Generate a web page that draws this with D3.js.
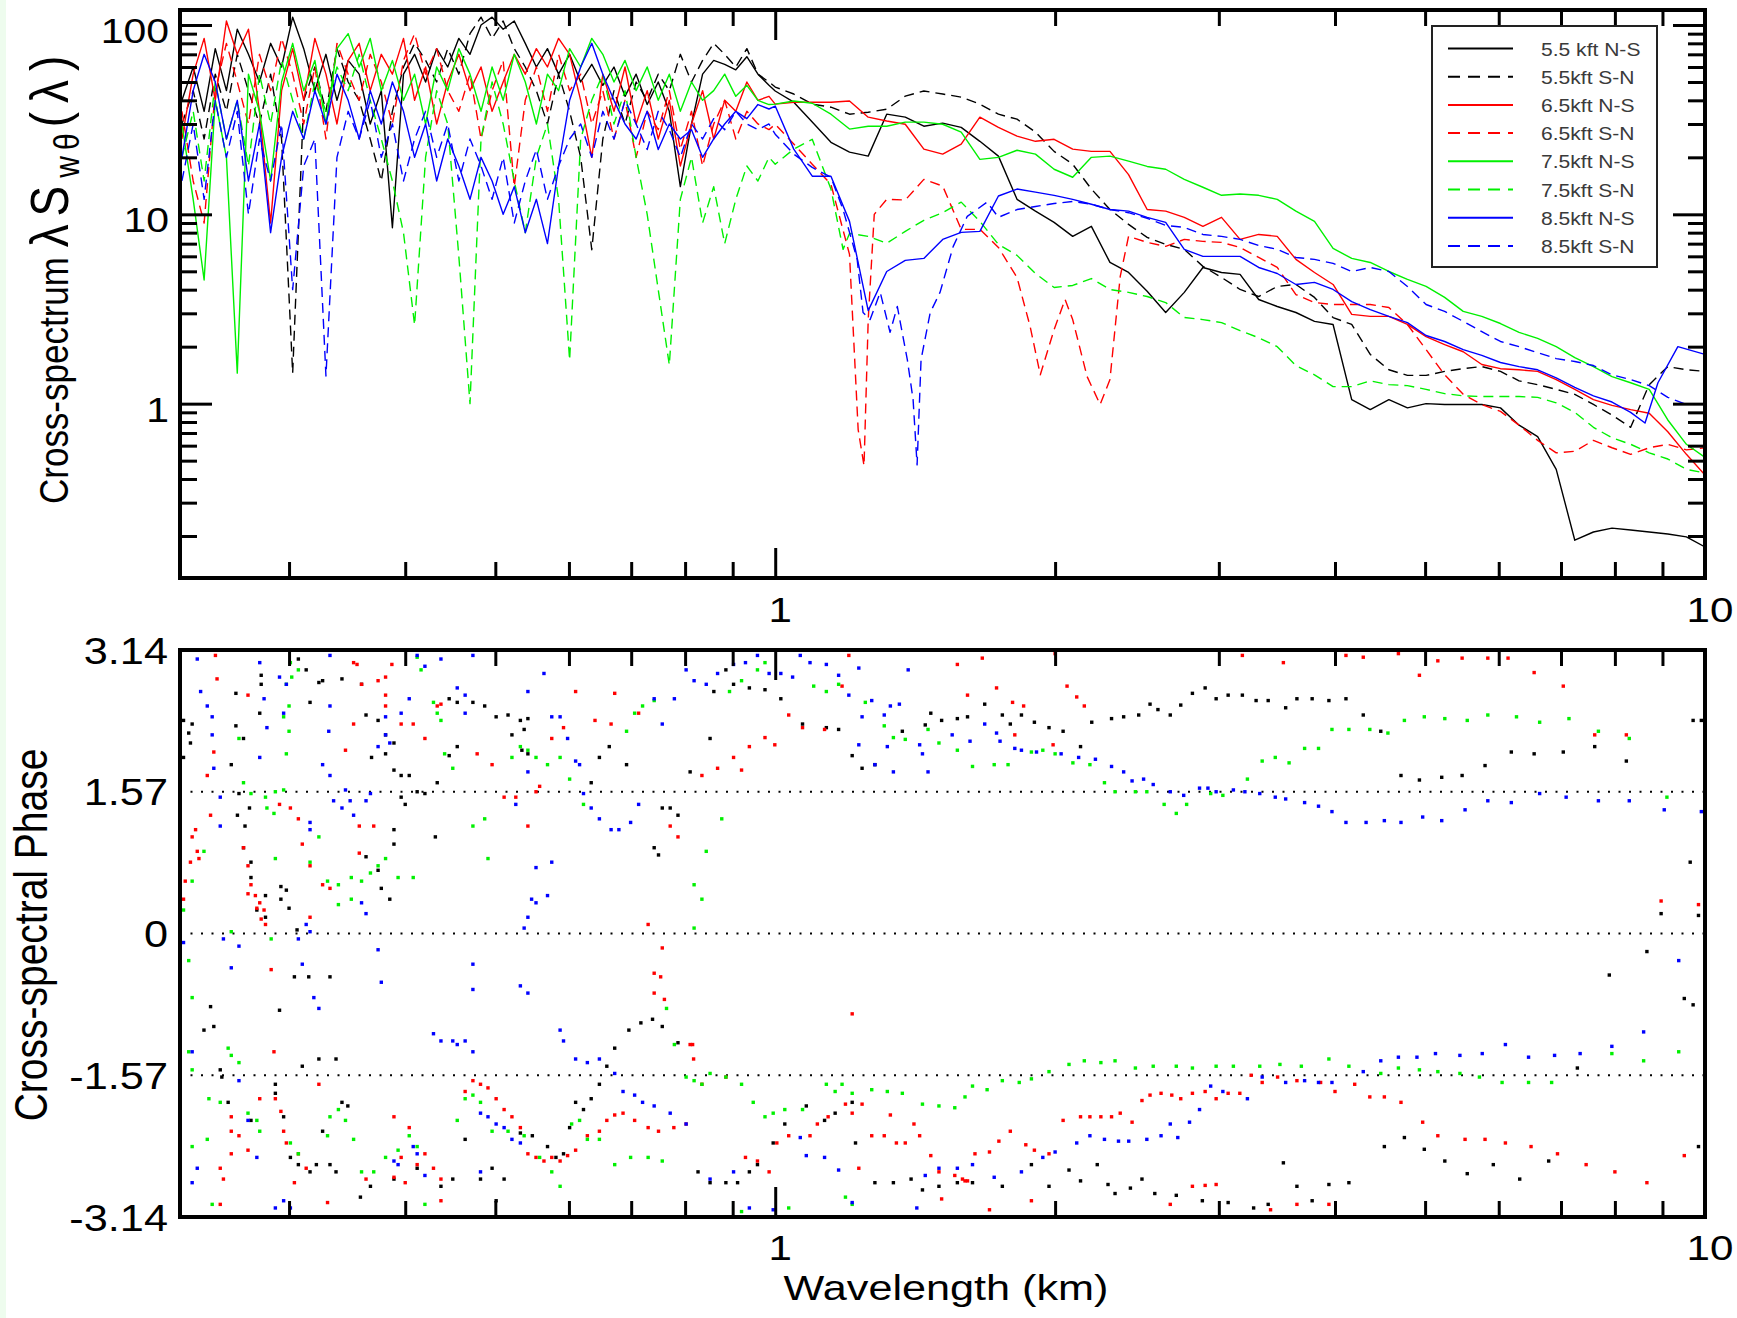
<!DOCTYPE html>
<html>
<head>
<meta charset="utf-8">
<title>Cross-spectrum and cross-spectral phase</title>
<script src="https://cdn.jsdelivr.net/npm/d3@7"></script>
<style>
  html, body { margin: 0; padding: 0; background: #ffffff; }
  svg { display: block; }
</style>
</head>
<body>
<svg id="chart" width="1737" height="1318"></svg>
<script>
// ---------------------------------------------------------------------------
// Data
// ---------------------------------------------------------------------------

// Tick values
const xMajorTicks = [1, 10];
const xMinorTicks = [0.3, 0.4, 0.5, 0.6, 0.7, 0.8, 0.9, 2, 3, 4, 5, 6, 7, 8, 9];
const xTickLabels = ["1", "10"];
const specMajorTicks = [1, 10, 100];
const specMinorTicks = [0.2, 0.3, 0.4, 0.5, 0.6, 0.7, 0.8, 0.9, 2, 3, 4, 5, 6, 7, 8, 9, 20, 30, 40, 50, 60, 70, 80, 90];
const specTickLabels = ["1", "10", "100"];
const phaseTicks = [-3.14, -1.57, 0, 1.57, 3.14];
const phaseTickLabels = ["-3.14", "-1.57", "0", "1.57", "3.14"];
const phaseGuides = [-1.57, 0, 1.57];

// Short-wavelength grid (km) shared by the spectra below 1 km
const waveShort = [0.2301, 0.2366, 0.2431, 0.2499, 0.2569, 0.2639, 0.2713, 0.2788, 0.2866, 0.2945,
  0.3027, 0.3111, 0.3198, 0.3287, 0.3378, 0.3473, 0.3569, 0.3668, 0.3770, 0.3875,
  0.3983, 0.4094, 0.4207, 0.4324, 0.4444, 0.4568, 0.4696, 0.4826, 0.4960, 0.5098,
  0.5240, 0.5385, 0.5535, 0.5689, 0.5848, 0.6010, 0.6177, 0.6349, 0.6525, 0.6708,
  0.6894, 0.7086, 0.7283, 0.7485, 0.7693, 0.7906, 0.8128, 0.8354, 0.8587, 0.8824,
  0.9070, 0.9322, 0.9581, 0.9847];

// Long-wavelength grid (km), 1 to 10 km
const waveLong = [1.000, 1.047, 1.096, 1.148, 1.202, 1.259, 1.318, 1.380, 1.445, 1.514,
  1.585, 1.660, 1.738, 1.820, 1.905, 1.995, 2.089, 2.188, 2.291, 2.399,
  2.512, 2.630, 2.754, 2.884, 3.020, 3.162, 3.311, 3.467, 3.631, 3.802,
  3.981, 4.169, 4.365, 4.571, 4.786, 5.012, 5.248, 5.495, 5.754, 6.026,
  6.310, 6.607, 6.918, 7.244, 7.586, 7.943, 8.318, 8.710, 9.120, 9.550, 10.0];

// 5.5 kft N-S
const s55nsShort = [40, 60, 35, 75, 45, 95, 70, 50, 80, 60, 110, 75, 45, 70, 40, 65, 55, 30, 45, 8.5,
  55, 70, 50, 75, 60, 85, 70, 100, 110, 95, 105, 80, 60, 75, 55, 70, 50, 62, 48, 60,
  42, 55, 38, 50, 35, 14, 30, 55, 65, 62, 58, 68, 55, 48];
const s55nsLong = [44.8, 39.1, 30.7, 24.0, 21.3, 20.3, 33.8, 32.6, 29.2, 30.3,
  28.8, 24.3, 20.3, 12.0, 10.4, 9.07, 7.65, 8.64, 5.57, 4.93,
  3.92, 3.03, 3.87, 5.24, 4.93, 4.82, 3.55, 3.26, 3.03, 2.72,
  2.62, 1.05, 0.93, 1.05, 0.95, 1.00, 0.99, 0.99, 0.99, 0.95,
  0.77, 0.67, 0.45, 0.19, 0.21, 0.22, 0.215, 0.21, 0.205, 0.198, 0.175];

// 5.5 kft S-N
const s55snShort = [30, 45, 25, 55, 35, 70, 45, 30, 55, 25, 1.45, 40, 60, 35, 75, 50, 40, 25, 15, 35,
  60, 80, 65, 50, 75, 55, 90, 110, 85, 105, 75, 60, 45, 30, 55, 35, 20, 6.5, 25, 45,
  30, 50, 40, 55, 45, 70, 50, 65, 80, 70, 60, 75, 55, 50];
const s55snLong = [47.0, 43.2, 38.2, 36.8, 33.8, 34.6, 35.9, 42.1, 44.8, 43.2,
  41.6, 38.2, 33.8, 31.8, 27.2, 21.5, 18.4, 13.6, 10.6, 8.85,
  7.55, 6.94, 6.53, 5.31, 4.64, 4.01, 3.68, 4.16, 4.26, 3.64,
  2.85, 2.62, 1.82, 1.51, 1.41, 1.41, 1.48, 1.53, 1.57, 1.48,
  1.32, 1.26, 1.19, 1.12, 0.99, 0.87, 0.75, 1.26, 1.57, 1.51, 1.48];

// 6.5 kft N-S
const s65nsShort = [25, 55, 85, 40, 105, 70, 95, 35, 9, 45, 75, 40, 85, 55, 30, 65, 80, 45, 70, 55,
  85, 40, 60, 30, 50, 70, 45, 60, 35, 50, 70, 55, 75, 60, 85, 70, 40, 20, 55, 35,
  60, 30, 45, 25, 40, 18, 30, 45, 25, 40, 35, 50, 40, 42];
const s65nsLong = [38.2, 39.1, 39.1, 39.1, 39.7, 32.6, 31.1, 29.9, 22.1, 20.8,
  23.5, 32.6, 28.8, 25.9, 24.3, 24.9, 22.1, 21.5, 21.5, 16.2,
  10.6, 10.4, 9.64, 8.64, 9.64, 7.37, 7.83, 7.65, 5.78, 4.93,
  4.26, 2.96, 2.89, 2.89, 2.62, 2.26, 2.05, 1.88, 1.61, 1.53,
  1.51, 1.48, 1.34, 1.19, 1.05, 0.98, 0.93, 0.89, 0.71, 0.54, 0.42];

// 6.5 kft S-N (own wavelength points through the deep minima)
const s65snShort = [35, 15, 9, 45, 80, 50, 30, 70, 45, 85, 55, 30, 60, 25, 80, 55, 40, 70, 50, 30,
  65, 90, 55, 75, 45, 35, 55, 25, 45, 65, 14, 40, 60, 35, 70, 45, 55, 30, 45, 25,
  40, 20, 35, 28, 45, 22, 35, 18, 30, 40, 25, 35, 30, 28];
const s65snLong = [[1.000, 29.9], [1.047, 23.5], [1.096, 18.4], [1.148, 14.4], [1.202, 6.14],
  [1.228, 0.73], [1.246, 0.47], [1.259, 2.78], [1.278, 10.0], [1.318, 12.0], [1.380, 11.9],
  [1.445, 15.3], [1.514, 14.1], [1.585, 8.33], [1.660, 8.33], [1.738, 6.69], [1.820, 4.64],
  [1.880, 2.56], [1.928, 1.42], [1.995, 2.46], [2.050, 3.55], [2.089, 2.78], [2.165, 1.39],
  [2.236, 0.99], [2.291, 1.34], [2.350, 4.70], [2.399, 7.65], [2.512, 7.11], [2.630, 6.77],
  [2.754, 7.37], [2.884, 7.20], [3.020, 7.11], [3.162, 6.69], [3.311, 5.92], [3.467, 5.24],
  [3.631, 3.77], [3.802, 3.42], [3.981, 3.34], [4.169, 3.34], [4.365, 3.34], [4.571, 3.22],
  [4.786, 2.62], [5.012, 1.93], [5.248, 1.42], [5.495, 1.12], [5.754, 0.99], [6.026, 0.91],
  [6.310, 0.77], [6.607, 0.64], [6.918, 0.55], [7.244, 0.56], [7.586, 0.64], [7.943, 0.585],
  [8.318, 0.54], [8.710, 0.585], [9.120, 0.61], [9.550, 0.57], [10.0, 0.585]];

// 7.5 kft N-S
const s75nsShort = [30, 12, 4.5, 40, 20, 1.45, 55, 35, 15, 50, 80, 45, 65, 30, 75, 90, 60, 85, 45, 65,
  40, 55, 30, 60, 45, 75, 55, 35, 60, 40, 70, 50, 30, 55, 45, 75, 60, 85, 70, 50,
  65, 45, 60, 40, 55, 35, 50, 40, 45, 55, 42, 48, 40, 38];
const s75nsLong = [38.2, 39.7, 38.6, 33.8, 28.2, 29.2, 29.2, 30.7, 30.7, 29.9,
  27.2, 19.5, 20.0, 21.8, 20.8, 17.3, 15.7, 20.0, 20.3, 19.1,
  17.9, 17.3, 15.3, 13.9, 12.6, 12.8, 12.6, 12.0, 10.4, 9.18,
  6.61, 5.85, 5.57, 4.99, 4.53, 4.16, 3.64, 3.07, 2.89, 2.65,
  2.38, 2.21, 2.00, 1.75, 1.57, 1.39, 1.29, 1.19, 0.82, 0.61, 0.52];

// 7.5 kft S-N
const s75snShort = [20, 35, 15, 50, 25, 40, 18, 55, 30, 65, 40, 25, 50, 35, 60, 45, 70, 40, 25, 15,
  8, 2.6, 20, 45, 30, 6, 1.0, 25, 50, 30, 15, 8, 20, 30, 12, 1.7, 25, 40, 55, 30,
  45, 20, 10, 4, 1.6, 12, 20, 9, 14, 7, 12, 18, 15, 20];
const s75snLong = [[1.000, 18.4], [1.047, 22.1], [1.096, 24.9], [1.148, 13.6], [1.183, 6.53],
  [1.202, 7.93], [1.259, 7.65], [1.318, 7.03], [1.380, 8.13], [1.445, 9.30], [1.514, 10.2],
  [1.585, 11.6], [1.660, 9.18], [1.738, 6.94], [1.820, 6.07], [1.905, 4.87], [1.995, 4.11],
  [2.089, 4.21], [2.188, 4.58], [2.291, 4.01], [2.399, 3.87], [2.512, 3.68], [2.630, 3.42],
  [2.754, 2.85], [2.884, 2.78], [3.020, 2.68], [3.162, 2.43], [3.311, 2.23], [3.467, 2.00],
  [3.631, 1.59], [3.802, 1.42], [3.981, 1.23], [4.169, 1.23], [4.365, 1.32], [4.571, 1.26],
  [4.786, 1.245], [5.012, 1.19], [5.248, 1.13], [5.495, 1.10], [5.754, 1.09], [6.026, 1.09],
  [6.310, 1.09], [6.607, 1.08], [6.918, 1.01], [7.244, 0.90], [7.586, 0.75], [7.943, 0.66],
  [8.318, 0.61], [8.710, 0.55], [9.120, 0.51], [9.550, 0.45], [10.0, 0.43]];

// 8.5 kft N-S
const s85nsShort = [20, 45, 70, 50, 25, 40, 15, 30, 8, 20, 35, 25, 45, 30, 55, 40, 25, 45, 30, 50,
  35, 20, 30, 15, 25, 18, 12, 20, 15, 10, 14, 8, 12, 7, 18, 40, 60, 80, 55, 40,
  30, 25, 35, 22, 30, 25, 28, 20, 25, 30, 35, 32, 38, 36];
const s85nsLong = [[1.000, 37.3], [1.047, 22.1], [1.096, 15.9], [1.148, 15.9], [1.202, 9.18],
  [1.259, 3.1], [1.318, 4.99], [1.380, 5.71], [1.445, 5.85], [1.514, 7.37], [1.585, 8.03],
  [1.660, 8.13], [1.738, 12.5], [1.820, 13.6], [1.905, 13.1], [1.995, 12.6], [2.089, 12.0],
  [2.188, 11.3], [2.291, 10.6], [2.399, 10.4], [2.512, 9.64], [2.630, 9.07], [2.754, 6.53],
  [2.884, 6.0], [3.020, 6.0], [3.162, 6.0], [3.311, 5.24], [3.467, 4.87], [3.631, 4.26],
  [3.802, 4.37], [3.981, 4.01], [4.169, 3.46], [4.365, 3.14], [4.571, 2.89], [4.786, 2.68],
  [5.012, 2.29], [5.248, 2.13], [5.495, 1.93], [5.754, 1.80], [6.026, 1.65], [6.310, 1.57],
  [6.607, 1.51], [6.918, 1.37], [7.244, 1.22], [7.586, 1.10], [7.943, 1.02], [8.318, 0.90],
  [8.62, 0.79], [8.90, 1.29], [9.35, 2.00], [10.0, 1.82]];

// 8.5 kft S-N
const s85snShort = [15, 30, 12, 40, 20, 35, 10, 25, 15, 30, 4, 18, 25, 1.4, 20, 35, 25, 40, 20, 30,
  15, 25, 35, 20, 30, 15, 25, 18, 12, 20, 9, 15, 22, 12, 18, 25, 30, 20, 35, 25,
  40, 30, 22, 35, 28, 20, 30, 25, 32, 28, 35, 30, 28, 30];
const s85snLong = [[1.000, 26.5], [1.047, 20.8], [1.096, 17.7], [1.148, 15.7], [1.183, 10.6],
  [1.225, 5.78], [1.243, 3.03], [1.265, 2.78], [1.297, 3.87], [1.329, 2.38], [1.353, 3.26],
  [1.387, 1.71], [1.407, 1.05], [1.421, 0.475], [1.435, 1.71], [1.468, 3.03], [1.504, 3.87],
  [1.554, 6.77], [1.609, 9.76], [1.690, 11.6], [1.738, 9.64], [1.820, 10.6], [1.905, 11.0],
  [1.995, 11.4], [2.089, 11.7], [2.188, 11.3], [2.291, 10.6], [2.399, 10.2], [2.512, 9.53],
  [2.630, 8.74], [2.754, 8.53], [2.884, 7.83], [3.020, 7.65], [3.162, 7.37], [3.311, 6.85],
  [3.467, 6.53], [3.631, 5.92], [3.802, 5.78], [3.981, 5.51], [4.169, 4.99], [4.365, 5.24],
  [4.571, 4.99], [4.786, 4.16], [5.012, 3.34], [5.248, 3.07], [5.495, 2.72], [5.754, 2.40],
  [6.026, 2.13], [6.310, 2.00], [6.607, 1.86], [6.918, 1.73], [7.244, 1.67], [7.586, 1.59],
  [7.943, 1.42], [8.318, 1.34], [8.710, 1.245], [9.120, 1.08], [9.550, 0.99]];

// Cross-spectral phase (wavelength km, phase rad), N-S and S-N pooled per altitude
const phase55 = [[0.231,2.36],[0.236,2.32],[0.234,2.22],[0.235,2.11],[0.231,1.95],[0.263,2.66],[0.280,2.86],[0.280,2.76],[0.279,2.44],[0.263,2.30],[0.268,2.16],[0.260,1.87],[0.265,1.55],[0.272,1.39],[0.264,1.31],[0.269,1.19],[0.268,0.95],[0.273,0.79],[0.273,0.62],[0.283,0.42],[0.277,0.26],[0.283,0.18],[0.294,0.52],[0.298,0.48],[0.300,0.28],[0.294,0.38],[0.306,0.04],[0.304,-0.48],[0.315,-0.48],[0.332,-0.48],[0.293,-0.85],[0.247,-0.81],[0.249,-1.03],[0.243,-1.07],[0.253,-1.51],[0.254,-1.59],[0.258,-1.87],[0.273,-2.07],[0.290,-1.77],[0.296,-2.03],[0.301,-2.48],[0.307,-2.56],[0.316,-2.64],[0.321,-2.56],[0.326,-2.19],[0.332,-2.56],[0.337,-2.64],[0.342,-1.87],[0.347,-1.91],[0.358,-2.92],[0.367,-2.80],[0.389,-2.72],[0.412,-2.60],[0.437,-2.80],[0.450,-2.72],[0.464,-2.28],[0.482,-2.72],[0.496,-2.60],[0.501,-2.96],[0.511,-2.72],[0.532,-2.21],[0.548,-2.24],[0.569,-2.36],[0.581,-2.48],[0.592,-2.44],[0.601,-2.15],[0.610,-1.87],[0.622,-1.95],[0.634,-1.83],[0.647,-1.67],[0.659,-1.47],[0.672,-1.27],[0.696,-1.07],[0.717,-0.99],[0.738,-0.95],[0.756,-1.03],[0.786,-1.21],[0.323,-1.39],[0.337,-1.39],[0.310,-1.47],[0.290,-1.67],
  [0.307,3.04],[0.313,2.92],[0.323,2.78],[0.316,2.56],[0.326,2.80],[0.342,2.82],[0.359,2.76],[0.363,2.42],[0.374,2.36],[0.381,2.20],[0.389,2.11],[0.381,1.99],[0.368,1.95],[0.389,1.81],[0.396,1.75],[0.404,1.75],[0.412,1.57],[0.396,1.51],[0.400,1.43],[0.420,1.55],[0.433,1.67],[0.389,1.15],[0.389,0.99],[0.431,1.07],[0.363,0.85],[0.374,0.70],[0.377,0.50],[0.385,0.38],
  [0.446,2.60],[0.455,2.56],[0.473,2.56],[0.487,2.52],[0.501,2.40],[0.516,2.42],[0.532,2.36],[0.542,2.38],[0.537,2.26],[0.521,2.20],[0.534,2.03],[0.542,1.99],[0.455,2.07],[0.446,1.97],[0.634,1.67],[0.647,1.95],[0.692,1.87],[0.663,2.07],[0.756,1.39],[0.771,1.39],[0.786,1.31],[0.741,0.95],[0.749,0.87],[0.810,1.79],[0.859,2.68],[0.902,2.76],[0.938,2.72],[0.975,2.70],[1.014,2.60],[0.885,2.92],[0.851,2.16],
  [0.826,-2.64],[0.851,-2.76],[0.885,-2.76],[0.911,-2.76],[0.938,-2.64],[0.957,-2.56],[0.995,-2.32],[1.024,-2.11],
  [1.07,2.32],[1.135,2.28],[1.17,2.26],[1.21,1.97],[1.24,1.83],[1.28,1.87],[1.37,2.24],[1.45,2.31],[1.47,2.44],[1.51,2.36],[1.57,2.38],[1.61,2.40],[1.68,2.54],[1.755,2.42],[1.79,2.32],[1.84,2.42],[1.90,2.34],[1.97,2.28],[2.04,2.24],[2.13,2.07],[2.19,2.34],[2.30,2.38],[2.37,2.40],[2.46,2.42],[2.53,2.54],[2.58,2.48],[2.66,2.42],[2.73,2.53],[2.81,2.66],[2.90,2.72],[2.98,2.60],[3.07,2.64],[3.18,2.64],[3.29,2.58],[3.39,2.58],[3.54,2.50],[3.64,2.60],[3.78,2.60],[3.94,2.58],[4.11,2.60],[4.29,2.42],[4.48,2.24],[4.71,1.75],[4.93,1.70],[5.21,1.73],[5.48,1.75],[5.80,1.86],[6.19,2.01],[6.55,1.99],[7.04,2.01],[7.61,2.07],[8.23,1.91],[9.71,2.36],[9.91,2.36],[9.64,0.79],[8.97,0.22],[9.84,0.20],[8.66,-0.20],[7.89,-0.46],[9.50,-0.72],[9.71,-0.79],
  [1.08,-1.91],[1.13,-2.07],[1.16,-1.99],[1.21,-1.87],[1.22,-2.32],[1.28,-2.76],[1.34,-2.76],[1.40,-2.72],[1.44,-2.84],[1.50,-2.80],[1.57,-2.76],[1.63,-2.76],[1.755,-2.80],[1.886,-2.56],[1.97,-2.80],[2.07,-2.62],[2.13,-2.74],[2.22,-2.56],[2.28,-2.78],[2.32,-2.88],[2.41,-2.82],[2.48,-2.72],[2.56,-2.88],[2.70,-2.90],[2.88,-2.96],[3.07,-2.98],[3.27,-3.04],[3.39,-3.00],[3.52,-2.54],[3.64,-2.80],[3.78,-2.96],[3.94,-2.78],[4.14,-2.76],[4.52,-2.36],[4.75,-2.26],[4.99,-2.39],[5.25,-2.52],[5.55,-2.66],[5.92,-2.56],[6.32,-2.72],[6.79,-2.52],[7.29,-1.49],[9.84,-2.36]];

const phase65 = [[0.250,3.08],[0.251,2.82],[0.271,2.64],[0.249,2.01],[0.245,1.75],[0.247,1.31],[0.238,1.15],[0.236,1.07],[0.239,0.91],[0.235,0.79],[0.240,0.83],[0.232,0.58],[0.231,0.38],[0.268,0.95],[0.271,0.75],[0.273,0.54],[0.276,0.42],[0.279,0.34],[0.282,0.26],[0.283,0.10],[0.280,0.16],[0.277,0.28],[0.271,0.44],[0.287,-0.40],[0.301,1.39],[0.307,1.27],[0.310,0.99],[0.316,0.75],[0.293,1.43],[0.316,0.18],[0.326,0.54],[0.332,0.50],[0.345,2.03],[0.352,2.32],[0.359,2.76],[0.352,3.00],[0.355,2.98],[0.370,1.19],[0.357,1.19],[0.357,0.89],[0.374,2.80],[0.381,2.84],[0.387,2.98],[0.381,2.64],[0.381,2.52],[0.396,2.32],[0.408,2.32],[0.420,2.16],[0.433,2.52],[0.437,2.54],[0.478,1.99],[0.496,1.87],[0.511,1.51],[0.526,1.51],[0.542,1.19],[0.553,1.57],[0.558,1.63],[0.575,2.16],[0.592,2.28],[0.610,2.68],[0.640,2.36],[0.666,2.32],[0.672,2.66],[0.713,2.44],[0.771,1.19],[0.786,1.07],[0.834,1.75],[0.867,1.83],[0.902,1.95],[0.920,1.81],[0.938,2.07],[0.975,2.17],[0.999,2.09],[1.034,2.42],[0.730,0.10],[0.756,-0.16],[0.741,-0.44],[0.753,-0.48],[0.741,-0.66],[0.760,-0.73],[0.815,-1.23],[0.817,-1.39],
  [0.289,-1.31],[0.290,-1.83],[0.294,-1.97],[0.279,-1.83],[0.260,-2.03],[0.260,-2.19],[0.260,-2.44],[0.265,-2.24],[0.253,-2.60],[0.255,-2.72],[0.253,-3.00],[0.271,-2.40],[0.296,-2.19],[0.298,-2.32],[0.304,-2.76],[0.307,-2.44],[0.313,-2.60],[0.323,-1.67],[0.330,-2.98],[0.363,-2.72],[0.389,-2.70],[0.400,-2.76],[0.412,-2.56],[0.420,-2.44],[0.429,-2.60],[0.437,-2.72],[0.464,-1.75],[0.473,-1.63],[0.482,-1.67],[0.491,-1.71],[0.501,-1.83],[0.511,-1.95],[0.521,-2.03],[0.532,-2.15],[0.542,-2.44],[0.553,-2.48],[0.564,-2.52],[0.575,-2.48],[0.587,-2.52],[0.598,-2.46],[0.610,-2.40],[0.628,-2.24],[0.647,-2.19],[0.659,-2.07],[0.672,-2.01],[0.686,-1.99],[0.706,-2.07],[0.730,-2.15],[0.749,-2.19],[0.778,-2.15],[0.802,-2.11],[0.810,-1.23],[0.834,-1.67],[0.885,-1.59],[0.929,-2.48],[0.957,-2.52],[0.985,-2.64],[1.004,-2.32],[1.034,-2.24],[0.389,-2.03],[0.404,-2.15],[0.396,-2.48],[0.437,-2.96],
  [1.20,3.08],[1.57,2.98],[1.67,3.05],[1.73,2.72],[1.61,2.64],[1.80,2.56],[1.85,2.52],[1.81,2.20],[2.06,2.74],[2.11,2.62],[2.15,2.52],[1.99,2.09],[2.00,3.10],[3.18,3.08],[3.52,3.00],[4.11,3.08],[4.29,3.06],[4.68,3.10],[4.93,2.86],[5.16,3.02],[5.48,3.05],[5.84,3.05],[6.14,3.05],[6.55,2.89],[7.04,2.74],[8.23,2.20],[7.61,2.20],[1.07,2.28],[1.13,2.26],[1.18,2.74],[1.21,-0.89],[8.97,0.36],[9.84,0.32],
  [1.19,-1.89],[1.24,-1.89],[1.21,-1.99],[1.09,-2.24],[1.11,-2.11],[1.14,-2.03],[1.27,-2.24],[1.31,-2.24],[1.33,-2.01],[1.35,-2.32],[1.38,-2.32],[1.41,-2.11],[1.43,-2.24],[1.47,-2.46],[1.51,-2.94],[1.56,-2.68],[1.60,-2.74],[1.64,-2.44],[1.70,-2.42],[1.74,-2.30],[1.79,-2.19],[1.86,-2.34],[1.90,-2.40],[1.97,-2.44],[2.04,-2.07],[2.13,-2.03],[2.18,-2.03],[2.24,-2.03],[2.30,-2.03],[2.35,-1.99],[2.42,-2.09],[2.48,-1.85],[2.53,-1.79],[2.60,-1.77],[2.67,-1.79],[2.73,-1.83],[2.81,-1.77],[2.90,-1.75],[2.98,-1.83],[3.07,-1.77],[3.16,-1.77],[3.25,-1.57],[3.34,-1.65],[3.47,-1.59],[3.64,-1.63],[3.86,-1.65],[4.00,-1.75],[4.20,-1.67],[4.36,-1.81],[4.52,-1.81],[4.71,-1.87],[4.97,-2.09],[5.16,-2.24],[5.52,-2.28],[5.80,-2.28],[6.10,-2.32],[6.50,-2.36],[6.94,-2.44],[7.45,-2.56],[8.00,-2.64],[8.66,-2.76],[9.50,-2.46],[1.50,-2.64],[1.59,-2.72],[1.61,-2.74],[1.70,-3.06],[1.886,-2.96],[2.66,-3.00],[2.81,-2.80],[2.90,-2.79],[2.98,-2.78],[3.41,-3.06],[3.64,-3.00],[3.94,-3.00],[1.23,-2.60]];

const phase75 = [[0.301,3.00],[0.307,2.92],[0.302,2.84],[0.298,2.76],[0.300,2.52],[0.296,2.40],[0.300,2.24],[0.298,1.99],[0.265,2.16],[0.268,1.67],[0.273,1.55],[0.283,1.51],[0.290,1.57],[0.296,1.59],[0.289,1.33],[0.284,1.39],[0.243,0.91],[0.236,0.58],[0.231,0.26],[0.234,-0.30],[0.236,-0.71],[0.260,0.02],[0.287,-0.06],[0.290,0.83],[0.316,0.79],[0.323,1.07],[0.330,0.58],[0.339,0.54],[0.350,0.62],[0.359,0.58],[0.367,0.67],[0.374,0.75],[0.381,0.83],[0.393,0.62],[0.408,0.62],[0.350,0.38],[0.339,0.32],[0.412,3.06],[0.416,2.92],[0.429,2.56],[0.433,2.44],[0.437,2.36],[0.441,1.99],[0.450,1.83],[0.473,1.19],[0.487,1.27],[0.491,0.83],[0.521,1.95],[0.532,2.07],[0.542,2.03],[0.553,1.95],[0.569,1.87],[0.587,1.95],[0.601,1.71],[0.622,1.43],[0.692,2.24],[0.706,2.44],[0.720,2.52],[0.741,2.58],[0.818,0.54],[0.834,0.38],[0.843,0.91],[0.876,1.27],[0.893,2.68],[0.920,2.80],[0.975,3.00],[0.957,2.92],[0.818,0.06],
  [0.234,-1.31],[0.236,-1.51],[0.246,-1.83],[0.253,-1.87],[0.258,-1.27],[0.260,-1.35],[0.265,-1.43],[0.271,-1.99],[0.277,-2.07],[0.279,-2.19],[0.236,-2.36],[0.245,-2.28],[0.248,-3.00],[0.301,-2.32],[0.307,-2.44],[0.330,-2.24],[0.332,-2.03],[0.339,-1.95],[0.345,-2.07],[0.352,-2.28],[0.359,-2.64],[0.370,-2.64],[0.381,-2.48],[0.393,-2.40],[0.404,-2.24],[0.412,-2.36],[0.420,-3.00],[0.455,-2.07],[0.464,-1.83],[0.473,-1.79],[0.482,-1.87],[0.496,-2.19],[0.516,-2.19],[0.537,-2.24],[0.558,-2.48],[0.575,-2.64],[0.587,-2.80],[0.604,-2.11],[0.616,-2.07],[0.628,-2.28],[0.647,-2.28],[0.672,-2.56],[0.699,-2.48],[0.730,-2.48],[0.756,-2.52],[0.764,-0.83],[0.779,-1.23],[0.802,-1.59],[0.818,-1.63],[0.834,-1.67],[0.851,-1.55],[0.885,-1.59],[0.920,-1.67],[0.947,-1.87],[0.975,-2.03],[0.995,-1.99],[1.024,-1.95],[0.920,-3.08],[1.034,-3.04],
  [1.10,2.74],[1.17,2.76],[1.135,2.68],[1.25,2.56],[1.31,2.30],[1.38,2.15],[1.34,2.17],[1.46,2.26],[1.50,2.11],[1.57,2.03],[1.63,1.85],[1.72,1.87],[1.78,1.87],[1.886,2.01],[1.94,2.03],[2.00,1.99],[2.09,1.89],[2.18,1.87],[2.26,1.67],[2.32,1.57],[2.44,1.57],[2.51,1.57],[2.62,1.43],[2.70,1.33],[2.77,1.43],[2.94,1.55],[3.03,1.53],[3.22,1.71],[3.34,1.91],[3.45,1.95],[3.57,1.89],[3.71,2.05],[3.84,2.05],[3.97,2.26],[4.14,2.26],[4.36,2.26],[4.56,2.22],[4.75,2.36],[4.99,2.40],[5.25,2.38],[5.55,2.36],[5.84,2.42],[6.27,2.40],[6.64,2.34],[7.14,2.38],[7.68,2.24],[8.29,2.16],[9.10,1.51],
  [1.07,-1.95],[1.135,-1.67],[1.18,-1.67],[1.19,-2.92],[1.21,-3.00],[1.16,-1.75],[1.21,-1.77],[1.27,-1.73],[1.32,-1.75],[1.37,-1.77],[1.44,-1.89],[1.50,-1.91],[1.56,-1.93],[1.60,-1.81],[1.63,-1.69],[1.69,-1.73],[1.755,-1.63],[1.83,-1.65],[1.886,-1.61],[1.97,-1.53],[2.07,-1.45],[2.15,-1.41],[2.24,-1.43],[2.32,-1.41],[2.44,-1.49],[2.55,-1.47],[2.70,-1.47],[2.81,-1.49],[2.98,-1.47],[3.11,-1.47],[3.32,-1.47],[3.49,-1.45],[3.68,-1.47],[3.94,-1.39],[4.14,-1.47],[4.48,-1.55],[4.68,-1.49],[4.93,-1.51],[5.16,-1.53],[5.45,-1.55],[5.72,-1.59],[6.05,-1.65],[6.46,-1.65],[6.84,-1.65],[7.94,-1.33],[8.59,-1.41],[9.37,-1.31]];

const phase85 = [[0.239,3.04],[0.241,2.68],[0.245,2.52],[0.248,2.40],[0.248,2.20],[0.249,1.83],[0.253,1.51],[0.253,1.19],[0.279,3.00],[0.282,2.60],[0.284,2.28],[0.279,1.95],[0.293,2.84],[0.298,2.76],[0.296,2.44],[0.332,3.08],[0.332,2.52],[0.331,2.24],[0.326,1.87],[0.332,1.75],[0.335,1.47],[0.342,1.39],[0.352,1.31],[0.316,1.23],[0.316,1.15],[0.313,0.10],[0.316,0.02],[0.307,-0.06],[0.310,-0.34],[0.319,-0.71],[0.323,-0.83],[0.255,-0.06],[0.260,-0.38],[0.265,-0.14],[0.231,-0.10],[0.236,-1.31],[0.239,-2.60],[0.236,-2.76],[0.265,-1.63],[0.271,-2.07],[0.277,-2.48],[0.290,-3.04],[0.296,-2.96],[0.301,-3.04],[0.345,1.59],[0.349,1.47],[0.363,1.47],[0.367,1.55],[0.374,2.07],[0.381,2.20],[0.385,2.11],[0.381,2.40],[0.396,2.44],[0.404,2.60],[0.412,3.08],[0.420,2.96],[0.437,3.04],[0.455,2.72],[0.464,2.64],[0.464,2.44],[0.473,3.08],[0.359,0.34],[0.363,0.22],[0.374,-0.18],[0.377,-0.54],[0.429,-1.11],[0.437,-1.19],[0.450,-1.19],[0.464,-1.19],[0.455,-1.23],[0.473,-1.31],[0.482,-1.99],[0.491,-2.03],[0.501,-2.11],[0.511,-2.15],[0.521,-2.28],[0.532,-2.32],[0.408,-2.36],[0.412,-2.44],[0.389,-2.52],[0.393,-2.56],[0.420,-2.68],[0.482,-2.64],[0.542,-0.66],[0.532,-0.58],[0.473,-0.34],[0.473,-0.62],[0.547,0.38],[0.553,0.34],[0.569,0.42],[0.575,0.79],[0.553,0.73],[0.537,0.06],[0.542,0.18],[0.587,-1.07],[0.592,-1.19],[0.610,-1.39],[0.628,-1.43],[0.647,-1.39],[0.672,-1.55],[0.686,-1.75],[0.706,-1.79],[0.720,-1.87],[0.741,-1.91],[0.771,-1.99],[0.802,-2.11],[0.851,-2.72],[0.902,-2.64],[0.938,-3.04],[0.995,-3.06],[0.526,1.43],[0.542,1.79],[0.542,2.68],[0.564,2.88],[0.575,2.40],[0.587,2.40],[0.598,2.16],[0.610,1.91],[0.616,1.87],[0.622,1.55],[0.634,1.39],[0.647,1.27],[0.666,1.15],[0.679,1.15],[0.699,1.23],[0.713,1.43],[0.741,2.60],[0.756,2.32],[0.779,2.60],[0.802,2.92],[0.818,2.80],[0.843,2.76],[0.867,2.88],[0.902,2.98],[0.929,3.00],[0.957,3.08],[0.985,2.88],[1.014,2.88],[1.044,2.84],
  [1.064,3.08],[1.09,3.00],[1.135,2.98],[1.17,2.86],[1.23,2.94],[1.39,2.92],[1.20,2.64],[1.27,2.58],[1.31,2.42],[1.24,2.40],[1.33,2.52],[1.36,2.54],[1.23,2.09],[1.32,2.07],[1.43,2.09],[1.44,1.99],[1.28,1.87],[1.34,1.79],[1.46,1.79],[1.55,2.20],[1.62,2.13],[1.68,2.32],[1.73,2.22],[1.745,2.13],[1.81,2.05],[1.84,2.03],[1.91,2.01],[2.03,1.99],[2.12,1.95],[2.21,1.93],[2.30,1.85],[2.37,1.79],[2.42,1.69],[2.49,1.71],[2.55,1.65],[2.66,1.57],[2.75,1.53],[2.86,1.61],[2.92,1.61],[2.98,1.57],[3.11,1.59],[3.20,1.57],[3.32,1.55],[3.45,1.51],[3.54,1.49],[3.71,1.45],[3.84,1.41],[3.97,1.35],[4.11,1.23],[4.32,1.23],[4.52,1.25],[4.71,1.23],[4.97,1.29],[5.21,1.25],[5.52,1.37],[5.84,1.47],[6.19,1.45],[6.64,1.55],[7.09,1.51],[7.68,1.47],[8.29,1.47],[9.04,1.37],[9.91,1.35],[9.37,-0.30],[8.59,-1.09],
  [1.064,-2.26],[1.08,-2.46],[1.13,-2.48],[1.17,-2.62],[1.21,-2.98],[1.42,-3.04],[1.45,-2.68],[1.50,-2.60],[1.57,-2.60],[1.63,-2.56],[1.72,-2.70],[1.84,-2.64],[1.94,-2.48],[2.00,-2.42],[2.11,-2.32],[2.18,-2.24],[2.26,-2.28],[2.34,-2.30],[2.40,-2.30],[2.51,-2.28],[2.60,-2.24],[2.71,-2.26],[2.66,-2.11],[2.79,-2.09],[2.86,-1.95],[2.94,-1.69],[3.03,-1.75],[3.22,-1.83],[3.34,-1.59],[3.54,-1.65],[3.71,-1.63],[3.84,-1.65],[3.97,-1.65],[4.29,-1.53],[4.48,-1.41],[4.68,-1.37],[4.90,-1.37],[5.13,-1.33],[5.45,-1.35],[5.76,-1.33],[6.10,-1.23],[6.46,-1.37],[6.89,-1.35],[7.34,-1.33],[7.94,-1.25]];

// Series listing (legend order)
const seriesNames = ["5.5 kft N-S", "5.5kft S-N", "6.5kft N-S", "6.5kft S-N", "7.5kft N-S", "7.5kft S-N", "8.5kft N-S", "8.5kft S-N"];
const seriesColors = ["#000000", "#000000", "#ff0000", "#ff0000", "#00f000", "#00f000", "#0000ff", "#0000ff"];
const seriesDashed = [false, true, false, true, false, true, false, true];

// ---------------------------------------------------------------------------
// Assemble
// ---------------------------------------------------------------------------
const onGrid = (grid, vals) => grid.map((w, i) => [w, vals[i]]);
const spectra = [
  onGrid(waveShort, s55nsShort).concat(onGrid(waveLong, s55nsLong)),
  onGrid(waveShort, s55snShort).concat(onGrid(waveLong, s55snLong)),
  onGrid(waveShort, s65nsShort).concat(onGrid(waveLong, s65nsLong)),
  onGrid(waveShort, s65snShort).concat(s65snLong),
  onGrid(waveShort, s75nsShort).concat(onGrid(waveLong, s75nsLong)),
  onGrid(waveShort, s75snShort).concat(s75snLong),
  onGrid(waveShort, s85nsShort).concat(s85nsLong),
  onGrid(waveShort, s85snShort).concat(s85snLong)
];
const phaseSets = [
  { color: "#000000", pts: phase55 },
  { color: "#ff0000", pts: phase65 },
  { color: "#00f000", pts: phase75 },
  { color: "#0000ff", pts: phase85 }
];

// ---------------------------------------------------------------------------
// Layout and scales
// ---------------------------------------------------------------------------
const FONT = '"Liberation Sans", Arial, Helvetica, sans-serif';
const SX = 1.17;               // horizontal widening applied to all lettering
const L = 180, R = 1705;
const upT = 10, upB = 578;
const loT = 650, loB = 1217;

const x = d3.scaleLog().domain([0.229, 10]).range([L, R]);
const ySpec = d3.scaleLog().domain([0.12, 120]).range([upB, upT]);
const yPhase = d3.scaleLinear().domain([-3.14, 3.14]).range([loB, loT]);

const svg = d3.select("#chart");
svg.append("rect").attr("width", 1737).attr("height", 1318).attr("fill", "#ffffff");
svg.append("rect").attr("x", 0).attr("y", 0).attr("width", 6).attr("height", 1318).attr("fill", "#eefcee");

const defs = svg.append("defs");
defs.append("clipPath").attr("id", "clipUpper").append("rect")
  .attr("x", L).attr("y", upT).attr("width", R - L).attr("height", upB - upT);
defs.append("clipPath").attr("id", "clipLower").append("rect")
  .attr("x", L).attr("y", loT).attr("width", R - L).attr("height", loB - loT);

function addText(g, str, px, py, size, anchor, rotate) {
  return g.append("text")
    .attr("transform", `translate(${px},${py}) scale(${SX},1)` + (rotate ? " rotate(-90)" : ""))
    .attr("text-anchor", anchor)
    .attr("font-family", FONT)
    .attr("font-size", size)
    .attr("fill", "#000")
    .text(str);
}

function drawTicks(g, axis) {
  g.call(axis);
  g.select(".domain").remove();
  g.selectAll("text").remove();
  g.selectAll("line").attr("stroke", "#000").attr("stroke-width", 3);
}

// ---------------------------------------------------------------------------
// Upper panel: cross-spectrum
// ---------------------------------------------------------------------------
const upper = svg.append("g");
const specLine = d3.line().x(d => x(d[0])).y(d => ySpec(d[1]));
const dataUpper = upper.append("g").attr("clip-path", "url(#clipUpper)");
spectra.forEach((s, i) => {
  dataUpper.append("path")
    .attr("d", specLine(s))
    .attr("fill", "none")
    .attr("stroke", seriesColors[i])
    .attr("stroke-width", 1.4)
    .attr("stroke-linejoin", "round")
    .attr("stroke-dasharray", seriesDashed[i] ? "10,6" : null);
});

drawTicks(upper.append("g").attr("transform", `translate(0,${upB})`),
  d3.axisBottom(x).tickValues(xMajorTicks).tickSize(-30).tickSizeOuter(0).tickFormat(""));
drawTicks(upper.append("g").attr("transform", `translate(0,${upB})`),
  d3.axisBottom(x).tickValues(xMinorTicks).tickSize(-16).tickSizeOuter(0).tickFormat(""));
drawTicks(upper.append("g").attr("transform", `translate(0,${upT})`),
  d3.axisTop(x).tickValues(xMajorTicks).tickSize(-30).tickSizeOuter(0).tickFormat(""));
drawTicks(upper.append("g").attr("transform", `translate(0,${upT})`),
  d3.axisTop(x).tickValues(xMinorTicks).tickSize(-16).tickSizeOuter(0).tickFormat(""));
drawTicks(upper.append("g").attr("transform", `translate(${L},0)`),
  d3.axisLeft(ySpec).tickValues(specMajorTicks).tickSize(-32).tickSizeOuter(0).tickFormat(""));
drawTicks(upper.append("g").attr("transform", `translate(${L},0)`),
  d3.axisLeft(ySpec).tickValues(specMinorTicks).tickSize(-17).tickSizeOuter(0).tickFormat(""));
drawTicks(upper.append("g").attr("transform", `translate(${R},0)`),
  d3.axisRight(ySpec).tickValues(specMajorTicks).tickSize(-32).tickSizeOuter(0).tickFormat(""));
drawTicks(upper.append("g").attr("transform", `translate(${R},0)`),
  d3.axisRight(ySpec).tickValues(specMinorTicks).tickSize(-17).tickSizeOuter(0).tickFormat(""));

upper.append("rect").attr("x", L).attr("y", upT).attr("width", R - L).attr("height", upB - upT)
  .attr("fill", "none").attr("stroke", "#000").attr("stroke-width", 4);

specMajorTicks.forEach((v, i) => addText(upper, specTickLabels[i], 169, ySpec(v) + 18, 35, "end"));
xMajorTicks.forEach((v, i) => addText(upper, xTickLabels[i], x(v) + 5, 622, 36, "middle"));

// y title with symbols
const t1 = upper.append("text")
  .attr("transform", `translate(68,504) scale(${SX},1) rotate(-90)`)
  .attr("font-family", FONT).attr("font-size", 35).attr("fill", "#000");
t1.append("tspan").text("Cross-spectrum ");
t1.append("tspan").attr("font-size", 46).attr("letter-spacing", 8).text("λS");
t1.append("tspan").attr("font-size", 30).attr("letter-spacing", 6).attr("dy", 9).text("wθ");
t1.append("tspan").attr("font-size", 46).attr("letter-spacing", 9).attr("dy", -9).text("(λ)");

// Legend
const lg = upper.append("g");
lg.append("rect").attr("x", 1432).attr("y", 26).attr("width", 225).attr("height", 241)
  .attr("fill", "#fff").attr("stroke", "#222").attr("stroke-width", 2);
seriesNames.forEach((name, i) => {
  const yy = 48.5 + i * 28.2;
  lg.append("line").attr("x1", 1448).attr("x2", 1513).attr("y1", yy).attr("y2", yy)
    .attr("stroke", seriesColors[i]).attr("stroke-width", 2)
    .attr("stroke-dasharray", seriesDashed[i] ? "12,8" : null);
  addText(lg, name, 1541, yy + 7, 18, "start").attr("fill", "#3a3a3a");
});

// ---------------------------------------------------------------------------
// Lower panel: cross-spectral phase
// ---------------------------------------------------------------------------
const lower = svg.append("g");
const guides = lower.append("g");
phaseGuides.forEach(v => {
  guides.append("line").attr("x1", L).attr("x2", R).attr("y1", yPhase(v)).attr("y2", yPhase(v))
    .attr("stroke", "#000").attr("stroke-width", 2.2).attr("stroke-dasharray", "2,8.5");
});

const dataLower = lower.append("g").attr("clip-path", "url(#clipLower)");
phaseSets.forEach(set => {
  dataLower.append("g").selectAll("rect").data(set.pts).join("rect")
    .attr("x", d => x(d[0]) - 1.7)
    .attr("y", d => yPhase(d[1]) - 1.7)
    .attr("width", 3.4).attr("height", 3.4)
    .attr("fill", set.color);
});

drawTicks(lower.append("g").attr("transform", `translate(0,${loB})`),
  d3.axisBottom(x).tickValues(xMajorTicks).tickSize(-30).tickSizeOuter(0).tickFormat(""));
drawTicks(lower.append("g").attr("transform", `translate(0,${loB})`),
  d3.axisBottom(x).tickValues(xMinorTicks).tickSize(-16).tickSizeOuter(0).tickFormat(""));
drawTicks(lower.append("g").attr("transform", `translate(0,${loT})`),
  d3.axisTop(x).tickValues(xMajorTicks).tickSize(-30).tickSizeOuter(0).tickFormat(""));
drawTicks(lower.append("g").attr("transform", `translate(0,${loT})`),
  d3.axisTop(x).tickValues(xMinorTicks).tickSize(-16).tickSizeOuter(0).tickFormat(""));

lower.append("rect").attr("x", L).attr("y", loT).attr("width", R - L).attr("height", loB - loT)
  .attr("fill", "none").attr("stroke", "#000").attr("stroke-width", 4);

phaseTicks.forEach((v, i) => addText(lower, phaseTickLabels[i], 168, yPhase(v) + 13.5, 37, "end"));
xMajorTicks.forEach((v, i) => addText(lower, xTickLabels[i], x(v) + 5, 1260, 36, "middle"));

addText(lower, "Cross-spectral Phase", 47, 935, 39, "middle", true);
lower.append("text")
  .attr("transform", `translate(946,1300) scale(1.2,1)`)
  .attr("text-anchor", "middle").attr("font-family", FONT).attr("font-size", 36).attr("fill", "#000")
  .text("Wavelength (km)");
</script>
</body>
</html>
